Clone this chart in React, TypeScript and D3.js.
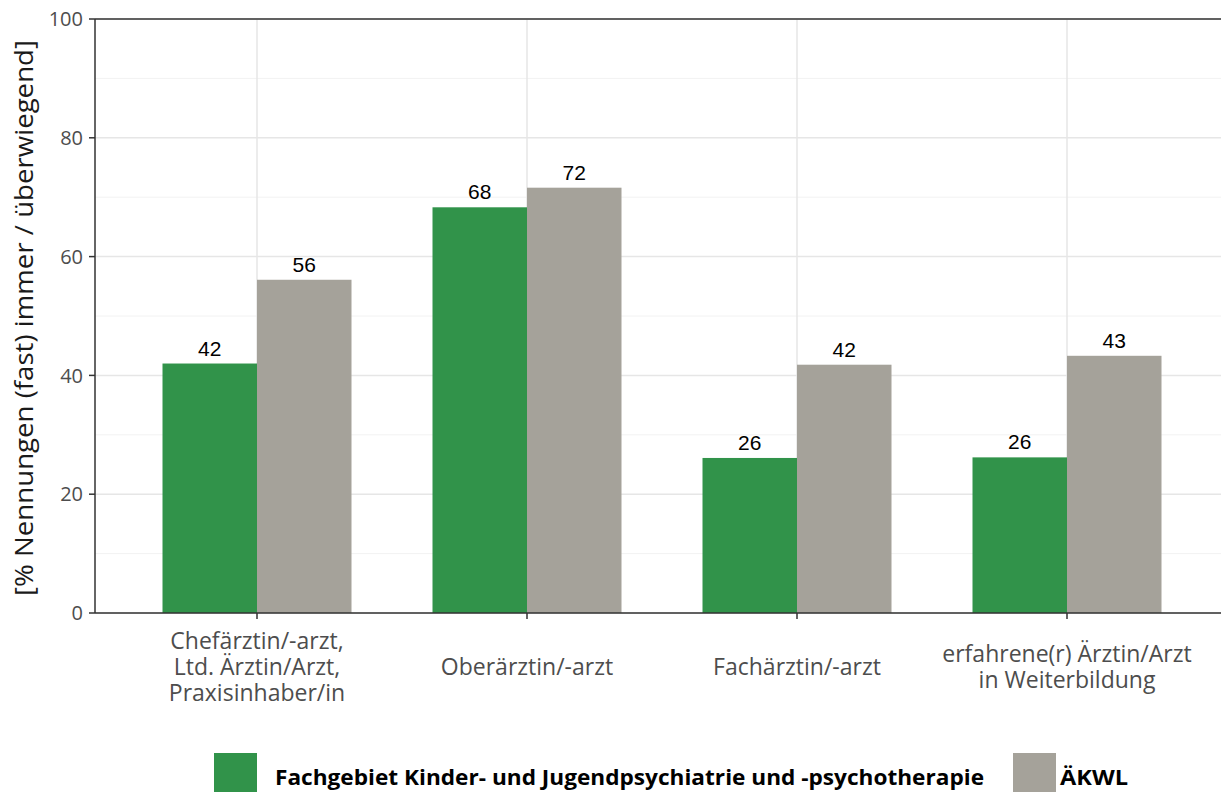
import React from "react";
import * as d3 from "d3";

const categories: string[][] = [
  ["Chefärztin/-arzt,", "Ltd. Ärztin/Arzt,", "Praxisinhaber/in"],
  ["Oberärztin/-arzt"],
  ["Fachärztin/-arzt"],
  ["erfahrene(r) Ärztin/Arzt", "in Weiterbildung"],
];
const seriesNames = ["Fachgebiet Kinder- und Jugendpsychiatrie und -psychotherapie", "ÄKWL"];
const seriesKJP = [42.0, 68.3, 26.1, 26.2];
const seriesAKWL = [56.1, 71.6, 41.8, 43.3];
const yTicks = [0, 20, 40, 60, 80, 100];
const yMinor = [10, 30, 50, 70, 90];
const colors = ["#31934A", "#A5A29A"];

export default function App() {
  const W = 1221, H = 792;
  const left = 95, top = 19, bottom = 613;
  const catIdx = categories.map((_, i) => i);
  const step = 270;
  const x = d3.scaleLinear().domain([0, 1]).range([left + 0.6 * step, left + 1.6 * step]);
  const y = d3.scaleLinear().domain([0, 100]).range([bottom, top]);
  const barW = (0.7 * step) / 2;
  const series = [seriesKJP, seriesAKWL];
  const font = "'Open Sans', 'Noto Sans', sans-serif";

  return (
    <svg width={W} height={H} style={{ position: "absolute", left: 0, top: 0 }}>
      <rect x={0} y={0} width={W} height={H} fill="white" />
      {yMinor.map((t) => (
        <line key={"m" + t} x1={left} x2={W} y1={y(t)} y2={y(t)} stroke="#F2F2F2" strokeWidth={1} />
      ))}
      {yTicks.map((t) => (
        <line key={"g" + t} x1={left} x2={W} y1={y(t)} y2={y(t)} stroke="#E6E6E6" strokeWidth={1.5} />
      ))}
      {catIdx.map((i) => (
        <line key={"v" + i} x1={x(i)} x2={x(i)} y1={top} y2={bottom} stroke="#E6E6E6" strokeWidth={1.5} />
      ))}
      {series.map((s, si) =>
        s.map((v, i) => (
          <rect
            key={si + "-" + i}
            x={x(i) - barW + si * barW}
            y={y(v)}
            width={barW}
            height={y(0) - y(v)}
            fill={colors[si]}
          />
        ))
      )}
      {series.map((s, si) =>
        s.map((v, i) => (
          <text
            key={"l" + si + "-" + i}
            x={x(i) - barW / 2 + si * barW}
            y={y(v) - 8}
            textAnchor="middle"
            fontFamily="'Liberation Sans', Arial, sans-serif"
            fontSize={21}
            fill="#000"
          >
            {Math.round(v)}
          </text>
        ))
      )}
      <line x1={left} x2={left} y1={top} y2={bottom} stroke="#333" strokeWidth={1.5} />
      <line x1={left} x2={W} y1={bottom} y2={bottom} stroke="#333" strokeWidth={1.5} />
      <line x1={left} x2={W} y1={top} y2={top} stroke="#333" strokeWidth={1.5} />
      {yTicks.map((t) => (
        <g key={"t" + t}>
          <line x1={left - 6} x2={left} y1={y(t)} y2={y(t)} stroke="#333" strokeWidth={1.5} />
          <text x={left - 12} y={y(t)} dy="0.36em" textAnchor="end" fontFamily={font} fontSize={20} fill="#4D4D4D">
            {t}
          </text>
        </g>
      ))}
      {catIdx.map((i) => {
        const lines = categories[i];
        const lh = 26;
        const startY = lines.length === 3 ? 649 : lines.length === 2 ? 662 : 675;
        return (
          <g key={"c" + i}>
            <line x1={x(i)} x2={x(i)} y1={bottom} y2={bottom + 6} stroke="#333" strokeWidth={1.5} />
            {lines.map((ln, k) => (
              <text key={k} x={x(i)} y={startY + k * lh} textAnchor="middle" fontFamily={font} fontSize={23} fill="#4D4D4D">
                {ln}
              </text>
            ))}
          </g>
        );
      })}
      <text
        transform={`translate(33, ${(top + bottom) / 2 + 2}) rotate(-90)`}
        textAnchor="middle"
        fontFamily={font}
        fontSize={25}
        fill="#1A1A1A"
        textLength={556}
        lengthAdjust="spacingAndGlyphs"
      >
        [% Nennungen (fast) immer / überwiegend]
      </text>
      <rect x={214} y={753} width={43} height={43} fill={colors[0]} />
      <text x={275} y={785} fontFamily={font} fontWeight="bold" fontSize={21} fill="#000" textLength={709} lengthAdjust="spacingAndGlyphs">
        {seriesNames[0]}
      </text>
      <rect x={1013} y={753} width={43} height={43} fill={colors[1]} />
      <text x={1060} y={785} fontFamily={font} fontWeight="bold" fontSize={21} fill="#000" textLength={68} lengthAdjust="spacingAndGlyphs">
        {seriesNames[1]}
      </text>
    </svg>
  );
}
